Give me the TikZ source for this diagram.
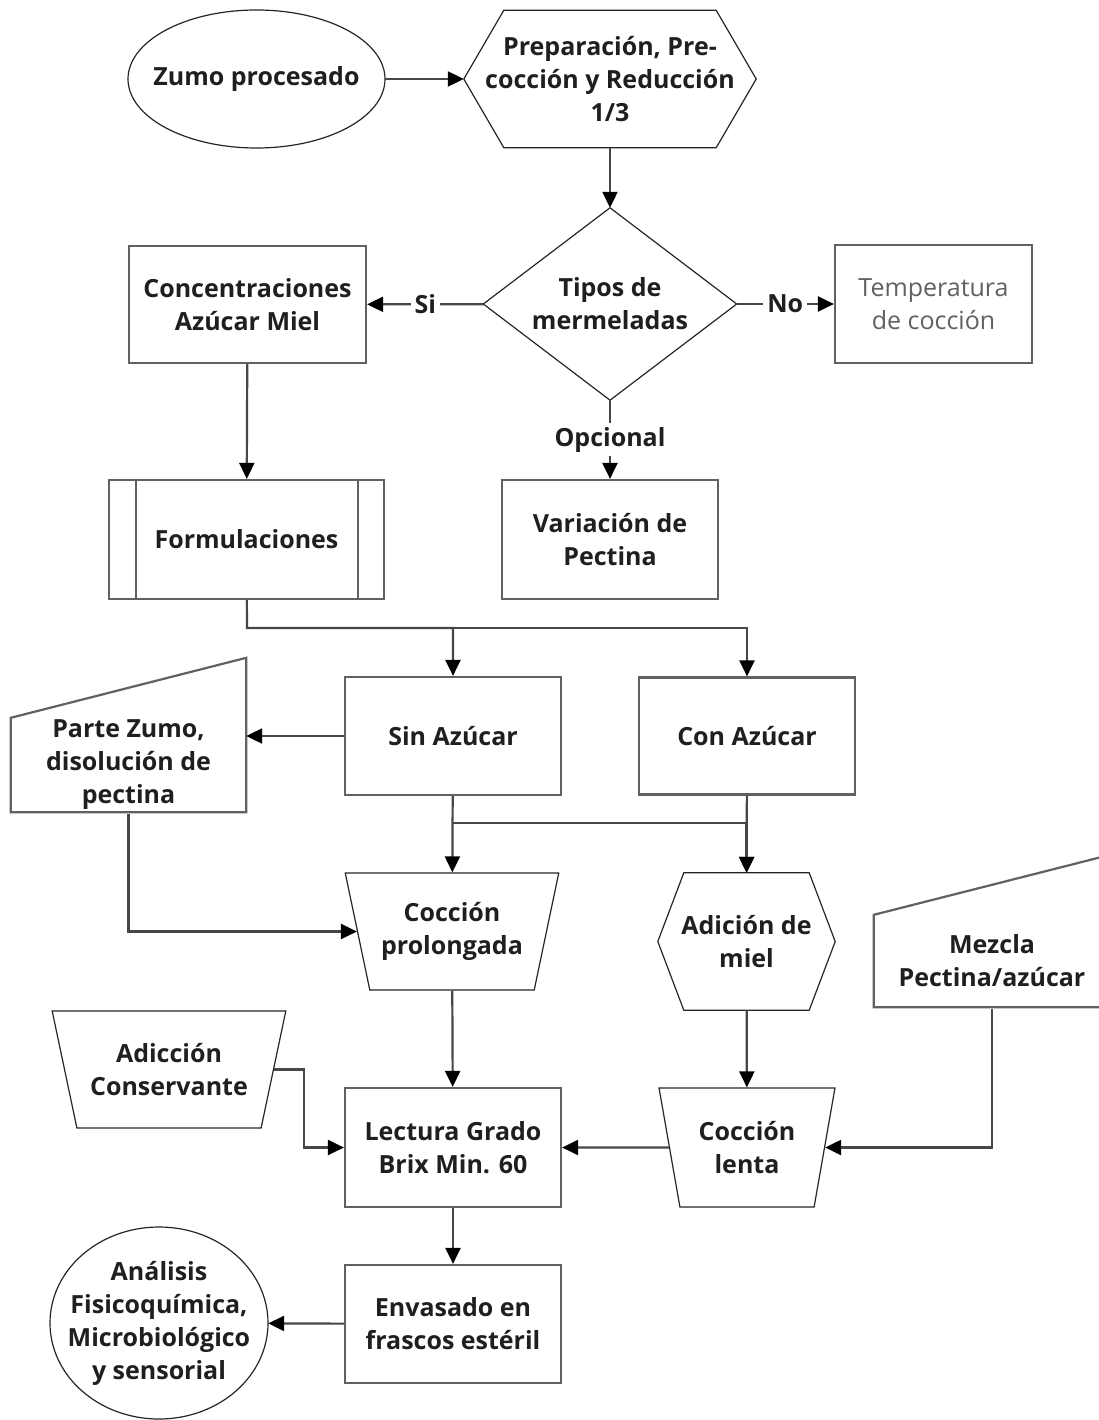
\documentclass[tikz,border=0pt]{standalone}
\usepackage{fontspec}
\setmainfont{Open Sans}
\usetikzlibrary{arrows.meta,shapes.geometric,calc}

\begin{document}
\begin{tikzpicture}[x=1pt,y=-1pt,
    >={Triangle[length=16pt,width=15pt,color=black]},
    every node/.style={font=\fontsize{25}{33}\selectfont\bfseries,text=black!88,
      align=center,inner sep=0pt},
    box/.style={rectangle,draw=black!62,line width=2.2pt},
    outl/.style={draw=black!85,line width=1.2pt},
    flow/.style={->,draw=black!72,line width=2.2pt},
    lbl/.style={fill=white,inner sep=4pt},
    trap/.style={trapezium,trapezium stretches=true,shape border rotate=180,
      draw=black!85,line width=1.2pt}]

  \useasboundingbox[fill=white] (0,0) rectangle (1098,1420);

  % top row
  \node[minimum width=257pt,minimum height=138pt] (zu) at (256.5,79) {Zumo procesado};
  \draw[outl] (zu.center) ellipse [x radius=128.5pt,y radius=69pt];
  \node[minimum width=292pt,minimum height=137pt] (pr) at (610,79)
    {Preparación, Pre-\\cocción y Reducción\\1/3};
  \draw[outl] (pr.west) -- ([xshift=40pt]pr.north west) -- ([xshift=-40pt]pr.north east)
    -- (pr.east) -- ([xshift=-40pt]pr.south east) -- ([xshift=40pt]pr.south west) -- cycle;

  % decision
  \node[minimum width=253pt,minimum height=192pt] (tm) at (610,304)
    {Tipos de\\mermeladas};
  \draw[outl] (tm.north) -- (tm.east) -- (tm.south) -- (tm.west) -- cycle;
  \node[box,minimum width=237pt,minimum height=117pt] (co) at (247.5,304.5)
    {Concentraciones\\Azúcar Miel};
  \node[box,minimum width=197pt,minimum height=118pt,
    font=\fontsize{25}{33}\selectfont\mdseries,text=black!62] (te) at (933.5,304)
    {Temperatura\\de cocción};
  \node[box,minimum width=275pt,minimum height=119pt] (fo) at (246.5,539.5) {Formulaciones};
  \draw[draw=black!62,line width=2.2pt] ([xshift=28pt]fo.north west) -- ([xshift=28pt]fo.south west)
    ([xshift=-27pt]fo.north east) -- ([xshift=-27pt]fo.south east);
  \node[box,minimum width=216pt,minimum height=119pt] (va) at (610,539.5) {Variación de\\Pectina};

  % formulations
  \node[box,minimum width=216pt,minimum height=118pt] (sa) at (453,736) {Sin Azúcar};
  \node[box,minimum width=216pt,minimum height=117pt] (ca) at (747,736) {Con Azúcar};
  \node[minimum width=235pt,minimum height=97pt] (pz) at (128.5,765)
    {Parte Zumo,\\disolución de\\pectina};
  \draw[box] ([yshift=1.5pt]pz.south west) -- ([yshift=-1.5pt]pz.north west)
    -- ([yshift=58.5pt]pz.north east) -- ([yshift=1.5pt]pz.south east) -- cycle;
  \node[trap,trapezium angle=70,minimum width=214pt,minimum height=117pt] (cp) at (452,931.5)
    {Cocción\\prolongada};
  \node[minimum width=177pt,minimum height=137pt] (am) at (746.5,941.5) {Adición de\\miel};
  \draw[outl] (am.west) -- ([xshift=26pt]am.north west) -- ([xshift=-26pt]am.north east)
    -- (am.east) -- ([xshift=-26pt]am.south east) -- ([xshift=26pt]am.south west) -- cycle;
  \node[minimum width=236pt,minimum height=95pt] (mz) at (992,961)
    {Mezcla\\Pectina/azúcar};
  \draw[box] ([yshift=1.5pt]mz.south west) -- ([yshift=-1.5pt]mz.north west)
    -- ([yshift=58.5pt]mz.north east) -- ([yshift=1.5pt]mz.south east) -- cycle;

  % bottom
  \node[trap,trapezium angle=74,minimum width=176pt,minimum height=119pt] (cl) at (747,1147.5)
    {Cocción\\lenta};
  \node[trap,trapezium angle=68,minimum width=234pt,minimum height=117pt] (ac) at (169,1069.5)
    {Adicción\\Conservante};
  \node[box,minimum width=216pt,minimum height=119pt] (le) at (453,1147.5)
    {Lectura Grado\\Brix Min. 60};
  \node[box,minimum width=216pt,minimum height=118pt] (en) at (453,1324)
    {Envasado en\\frascos estéril};
  \node[minimum width=218pt,minimum height=192pt] (an) at (159,1323)
    {Análisis\\Fisicoquímica,\\Microbiológico\\y sensorial};
  \draw[outl] (an.center) ellipse [x radius=109pt,y radius=96pt];

  \coordinate (fb) at (247,628);
  \coordinate (sb) at (453,823);
  \coordinate (acb) at (304,1069.5);

  % zumo -> tipos
  \draw[flow] (zu) -- (pr);
  \draw[flow] (pr) -- (tm);
  \draw[flow] (tm) -- node[lbl]{Si} (co);
  \draw[flow] (tm) -- node[lbl]{No} (te);
  \draw[flow] (tm) -- node[lbl]{Opcional} (va);
  \draw[flow] (co) -- (fo);

  % formulaciones -> coccion
  \draw[flow] (fo) -- (fb) -| (sa);
  \draw[flow] (fb) -| (ca);
  \draw[flow] (sa) -- (pz.east |- sa);
  \draw[flow] (sa) -- (cp);
  \draw[flow] (sb) -| (am);
  \draw[flow] (ca) -- (am);
  \draw[flow] (pz) |- (cp);
  \draw[flow] (am) -- (cl);
  \draw[flow] (mz) |- (cl);

  % lectura -> analisis
  \draw[flow] (cp) -- (le);
  \draw[flow] (cl) -- (le);
  \draw[flow] (ac) -- (acb) |- (le);
  \draw[flow] (le) -- (en);
  \draw[flow] (en) -- (an);
\end{tikzpicture}
\end{document}
